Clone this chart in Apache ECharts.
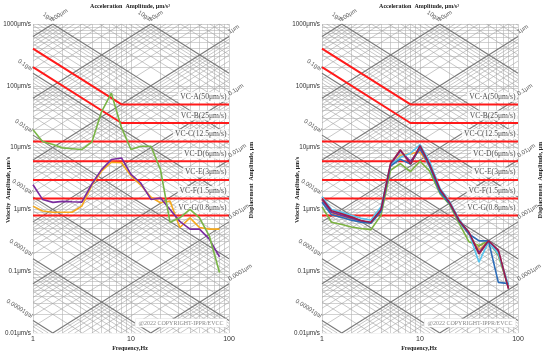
<!DOCTYPE html>
<html>
<head>
<meta charset="utf-8">
<script src="https://cdn.jsdelivr.net/npm/echarts@6/dist/echarts.min.js"></script>
<style>
  html, body { margin: 0; padding: 0; background: #fff; }
  #chart { width: 548px; height: 354px; }
</style>
</head>
<body>
<div id="chart"></div>
<script>
// 1/3 octave band centre frequencies, Hz
const freqs = [1, 1.25, 1.6, 2, 2.5, 3.15, 4, 5, 6.3, 8, 10, 12.5, 16, 20, 25, 31.5, 40, 50, 63, 80];

// left panel, velocity μm/s
const leftOrange = [1.13, 0.94, 0.9, 0.9, 0.9, 1.13, 2.5, 4.15, 5.8, 5.7, 3.5, 2.5, 1.57, 1.28, 1.36, 0.51, 0.73, 0.51, 0.48, 0.48];
const leftPurple = [2.5, 1.45, 1.3, 1.35, 1.33, 1.31, 2.6, 4.4, 6.4, 6.8, 3.7, 2.7, 1.45, 1.53, 1.0, 0.64, 0.48, 0.48, 0.33, 0.17];
const leftGreen  = [19.5, 12.6, 11.2, 9.9, 9.6, 9.3, 12.4, 38, 76, 21, 9.3, 10.5, 10.5, 4.4, 0.62, 0.73, 1.0, 0.73, 0.37, 0.095];

// right panel, velocity μm/s
const rightGreen  = [1.1, 0.62, 0.57, 0.52, 0.49, 0.47, 0.8, 4.3, 5.5, 4.1, 6.0, 4.2, 1.8, 1.2, 0.6, 0.3, 0.26, 0.31, 0.18, 0.055];
const rightOrange = [1.4, 0.88, 0.78, 0.7, 0.63, 0.6, 0.95, 5.0, 7.5, 8.0, 8.5, 5.2, 2.0, 1.3, 0.66, 0.4, 0.22, 0.31, 0.2, 0.055];
const rightPurple = [1.45, 0.9, 0.8, 0.72, 0.65, 0.61, 0.97, 5.3, 8.8, 6.0, 9.5, 5.3, 2.0, 1.3, 0.66, 0.42, 0.2, 0.31, 0.21, 0.053];
const rightLight  = [1.6, 1.0, 0.9, 0.8, 0.72, 0.67, 1.1, 5.2, 7.0, 8.1, 11.2, 6.0, 2.2, 1.35, 0.7, 0.42, 0.14, 0.3, 0.19, 0.06];
const rightBlue   = [1.3, 0.82, 0.74, 0.67, 0.62, 0.6, 0.92, 5.0, 6.5, 5.4, 10.0, 5.0, 1.9, 1.25, 0.65, 0.4, 0.31, 0.31, 0.066, 0.063];
const rightMaroon = [1.5, 0.95, 0.85, 0.75, 0.66, 0.62, 1.0, 5.5, 9.2, 5.4, 10.8, 5.4, 2.1, 1.3, 0.67, 0.43, 0.19, 0.31, 0.22, 0.052];

// vibration criteria
const vcNames  = ['VC-A(50μm/s)', 'VC-B(25μm/s)', 'VC-C(12.5μm/s)', 'VC-D(6μm/s)', 'VC-E(3μm/s)', 'VC-F(1.5μm/s)', 'VC-G(0.8μm/s)'];
const vcLevels = [50, 25, 12.5, 6, 3, 1.5, 0.8];
const vcCornerHz = [8, 8, null, null, null, null, null]; // constant acceleration below corner

// axes / tripartite grid annotations
const fMin = 1, fMax = 100, vMin = 0.01, vMax = 1000;
const xTicks = [1, 10, 100];
const galLeft  = ['0.1', '0.01', '0.001', '0.0001', '0.00001'];
const umRight  = ['1', '0.1', '0.01', '0.001', '0.0001'];
const topPairs = [['1', '100'], ['10', '10']]; // gal, μm meeting at the top edge

const TWO_PI = 2 * Math.PI;
const GAL = 1e4; // μm/s² per gal
// pixel slope of a diagonal: grid 196 px wide over 2 decades, 309 px high over 5 decades
const ANG = Math.atan((309 / 5) / (196 / 2)) * 180 / Math.PI;

function accelSeg(a) {
  const fa = Math.max(fMin, a / (TWO_PI * vMax));
  const fb = Math.min(fMax, a / (TWO_PI * vMin));
  if (fb <= fa * 1.0001) return null;
  return [[fa, a / (TWO_PI * fa)], [fb, a / (TWO_PI * fb)]];
}
function dispSeg(d) {
  const fa = Math.max(fMin, vMin / (TWO_PI * d));
  const fb = Math.min(fMax, vMax / (TWO_PI * d));
  if (fb <= fa * 1.0001) return null;
  return [[fa, TWO_PI * fa * d], [fb, TWO_PI * fb * d]];
}

function gridLines() {
  const rect = [], minor = [], major = [];
  for (let e = 0; e <= 1; e++) for (let m = 1; m <= 9; m++) {
    const f = m * Math.pow(10, e);
    rect.push({ coords: [[f, vMin], [f, vMax]] });
  }
  rect.push({ coords: [[fMax, vMin], [fMax, vMax]] });
  for (let e = -2; e <= 2; e++) for (let m = 1; m <= 9; m++) {
    const v = m * Math.pow(10, e);
    rect.push({ coords: [[fMin, v], [fMax, v]] });
  }
  rect.push({ coords: [[fMin, vMax], [fMax, vMax]] });
  for (let e = -6; e <= 1; e++) for (let m = 1; m <= 9; m++) {
    const s = accelSeg(m * Math.pow(10, e) * GAL);
    if (s) (m === 1 ? major : minor).push({ coords: s });
  }
  for (let e = -5; e <= 2; e++) for (let m = 1; m <= 9; m++) {
    const s = dispSeg(m * Math.pow(10, e));
    if (s) (m === 1 ? major : minor).push({ coords: s });
  }
  return { rect, minor, major };
}

const sans = 'Liberation Sans';
const serif = 'Liberation Serif';

function panel(gi, curves) {
  const ax = { xAxisIndex: gi, yAxisIndex: gi };
  const g = gridLines();
  const list = [];
  const linesBase = Object.assign({ type: 'lines', silent: true, z: 1, coordinateSystem: 'cartesian2d' }, ax);
  list.push(Object.assign({}, linesBase, { data: g.rect, lineStyle: { color: '#b4b4b4', width: 0.6, opacity: 1 } }));
  list.push(Object.assign({}, linesBase, { data: g.minor, lineStyle: { color: '#a2a2a2', width: 0.6, opacity: 1 } }));
  list.push(Object.assign({}, linesBase, { data: g.major, lineStyle: { color: '#777', width: 1.1, opacity: 1 } }));

  // criteria lines
  vcLevels.forEach((v, i) => {
    const c = vcCornerHz[i];
    const data = c ? [[fMin, v * c / fMin], [c, v], [fMax, v]] : [[fMin, v], [fMax, v]];
    list.push(Object.assign({ type: 'line', data, symbol: 'none', silent: true, z: 2,
      lineStyle: { color: '#ff1a1a', width: 2 } }, ax));
  });
  list.push(Object.assign({
    type: 'scatter', z: 3, silent: true, symbolSize: 1, itemStyle: { color: 'rgba(0,0,0,0)' },
    data: vcLevels.map((v, i) => ({ value: [fMax, v], name: vcNames[i] })),
    label: { show: true, formatter: '{b}', position: [0, -7], align: 'right', verticalAlign: 'middle',
      fontFamily: serif, fontSize: 7.6, color: '#222', backgroundColor: '#fff', padding: [1, 2] }
  }, ax));

  // diagonal annotations
  const lab = [];
  galLeft.forEach(t => lab.push({ value: [fMin, +t * GAL / (TWO_PI * fMin)],
    label: { formatter: t + 'gal', align: 'right', verticalAlign: 'bottom', rotate: -ANG, position: [-2, -1] } }));
  umRight.forEach(t => lab.push({ value: [fMax, TWO_PI * fMax * +t],
    label: { formatter: t + 'μm', align: 'left', verticalAlign: 'bottom', rotate: ANG, position: [2, -1] } }));
  topPairs.forEach(p => {
    const f = +p[0] * GAL / (TWO_PI * vMax);
    lab.push({ value: [f, vMax], label: { formatter: p[0] + 'gal', align: 'right', verticalAlign: 'bottom', rotate: -ANG, position: [-1, -1] } });
    lab.push({ value: [f, vMax], label: { formatter: p[1] + 'μm', align: 'left', verticalAlign: 'bottom', rotate: ANG, position: [1, -1] } });
  });
  list.push(Object.assign({
    type: 'scatter', z: 3, silent: true, symbolSize: 1, itemStyle: { color: 'rgba(0,0,0,0)' }, clip: false,
    data: lab, label: { show: true, fontFamily: sans, fontSize: 6, color: '#333' }
  }, ax));

  curves.forEach(c => list.push(Object.assign({
    type: 'line', z: 5, symbol: 'none', silent: true,
    data: freqs.map((f, i) => [f, c.values[i]]),
    lineStyle: { color: c.color, width: 1.6 }
  }, ax)));
  return list;
}

const leftCurves = [
  { values: leftOrange, color: '#f5a91e' },
  { values: leftPurple, color: '#7a2c9e' },
  { values: leftGreen, color: '#79b547' }
];
const rightCurves = [
  { values: rightGreen, color: '#7cb342' },
  { values: rightOrange, color: '#f2a531' },
  { values: rightPurple, color: '#7030a0' },
  { values: rightLight, color: '#58c4ee' },
  { values: rightBlue, color: '#2b6cb8' },
  { values: rightMaroon, color: '#9a1c4c' }
];

const grids = [
  { left: 33, top: 24, width: 196, height: 309 },
  { left: 322, top: 24, width: 196, height: 309 }
];

function fmtV(v) { return (v >= 1 ? String(Math.round(v)) : String(+v.toPrecision(1))) + 'μm/s'; }

const xAxes = grids.map((_, i) => ({
  type: 'log', logBase: 10, min: fMin, max: fMax, gridIndex: i,
  axisLine: { show: false }, axisTick: { show: false }, splitLine: { show: false },
  axisLabel: { fontFamily: sans, fontSize: 7, color: '#333', margin: 3,
    formatter: v => xTicks.includes(Math.round(v)) ? String(Math.round(v)) : '' }
}));
const yAxes = grids.map((_, i) => ({
  type: 'log', logBase: 10, min: vMin, max: vMax, gridIndex: i,
  axisLine: { show: false }, axisTick: { show: false }, splitLine: { show: false },
  axisLabel: { fontFamily: sans, fontSize: 6.3, color: '#333', margin: 2, formatter: fmtV }
}));

function panelText(dx) {
  const bold = 'bold 6px ' + serif;
  return [
    { type: 'text', x: 130 + dx, y: 6, style: { text: 'Acceleration  Amplitude, μm/s²', font: bold, fill: '#222', align: 'center', verticalAlign: 'middle' } },
    { type: 'text', x: 130 + dx, y: 348, style: { text: 'Frequency,Hz', font: bold, fill: '#222', align: 'center', verticalAlign: 'middle' } },
    { type: 'text', x: 8 + dx, y: 190, rotation: Math.PI / 2, style: { text: 'Velocity  Amplitude, μm/s', font: bold, fill: '#222', align: 'center', verticalAlign: 'middle' } },
    { type: 'text', x: 251 + dx, y: 180, rotation: Math.PI / 2, style: { text: 'Displacement  Amplitude, μm', font: bold, fill: '#222', align: 'center', verticalAlign: 'middle' } },
    { type: 'text', x: 181 + dx, y: 323, z: 10, style: { text: '@2022 COPYRIGHT-IPPR/EVCC', font: '6px ' + serif, fill: '#8a8a8a', align: 'center', verticalAlign: 'middle',
      backgroundColor: '#fff', padding: [1, 3], borderColor: '#ddd', borderWidth: 0.5 } }
  ];
}

const chart = echarts.init(document.getElementById('chart'), null, { renderer: 'canvas' });
chart.setOption({
  animation: false,
  backgroundColor: '#fff',
  grid: grids,
  xAxis: xAxes,
  yAxis: yAxes,
  graphic: panelText(0).concat(panelText(289)),
  series: panel(0, leftCurves).concat(panel(1, rightCurves))
});
</script>
</body>
</html>
